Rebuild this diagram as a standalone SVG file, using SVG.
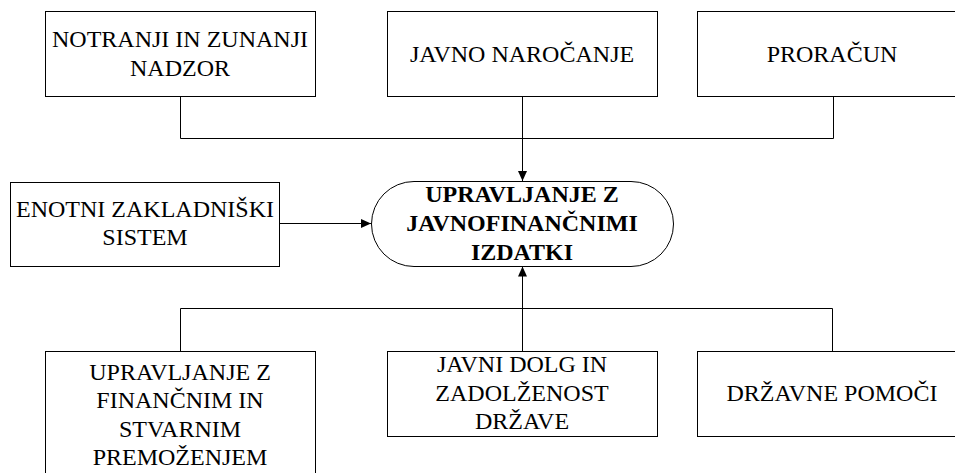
<svg xmlns="http://www.w3.org/2000/svg" width="955" height="473" viewBox="0 0 955 473">
  <style>
    .box { fill: #fff; stroke: #000; stroke-width: 1; }
    .wire { fill: none; stroke: #000; stroke-width: 1; }
  </style>
  <defs>
    <marker id="arrow" markerUnits="userSpaceOnUse" markerWidth="12" markerHeight="12" viewBox="0 0 12 12" refX="11" refY="6" orient="auto">
      <path d="M1,1.5 L11,6 L1,10.5 Z" fill="#000"/>
    </marker>
  </defs>
  <rect width="955" height="473" fill="#fff"/>

  <g id="connectors">
    <!-- upper bus: three sources joined, one arrow down to the centre -->
    <path class="wire" d="M180.5,96.5 V138.5 H833.5 V96.5"/>
    <path class="wire" d="M522.5,96.5 V181" marker-end="url(#arrow)"/>
    <!-- side input -->
    <path class="wire" d="M279.5,223.5 H371" marker-end="url(#arrow)"/>
    <!-- lower bus: three sources joined, one arrow up to the centre -->
    <path class="wire" d="M180.5,351.5 V308.5 H832.5 V351.5"/>
    <path class="wire" d="M522.5,351.5 V266.5" marker-end="url(#arrow)"/>
  </g>

  <g font-family="Liberation Serif, serif" font-size="24" fill="#000" text-anchor="middle">
    <g id="nadzor">
      <rect class="box" x="45.5" y="11.5" width="270" height="85"/>
      <text x="180" y="47">NOTRANJI IN ZUNANJI</text>
      <text x="180" y="76">NADZOR</text>
    </g>

    <g id="narocanje">
      <rect class="box" x="387.5" y="11.5" width="270" height="85"/>
      <text x="522" y="62">JAVNO NAROČANJE</text>
    </g>

    <g id="proracun">
      <rect class="box" x="697.5" y="11.5" width="270" height="85"/>
      <text x="832" y="62">PRORAČUN</text>
    </g>

    <g id="zakladniski">
      <rect class="box" x="10.5" y="182.5" width="269" height="84"/>
      <text x="145" y="217">ENOTNI ZAKLADNIŠKI</text>
      <text x="145" y="245">SISTEM</text>
    </g>

    <g id="izdatki" font-weight="bold">
      <rect class="box" x="371.5" y="181.5" width="302" height="85" rx="42.5" ry="42.5"/>
      <text x="522" y="202">UPRAVLJANJE Z</text>
      <text x="522" y="231">JAVNOFINANČNIMI</text>
      <text x="522" y="260">IZDATKI</text>
    </g>

    <g id="premozenje">
      <rect class="box" x="45.5" y="351.5" width="270" height="130"/>
      <text x="180" y="380">UPRAVLJANJE Z</text>
      <text x="180" y="408">FINANČNIM IN</text>
      <text x="180" y="437">STVARNIM</text>
      <text x="180" y="465">PREMOŽENJEM</text>
    </g>

    <g id="dolg">
      <rect class="box" x="387.5" y="351.5" width="270" height="85"/>
      <text x="522" y="372">JAVNI DOLG IN</text>
      <text x="522" y="401">ZADOLŽENOST</text>
      <text x="522" y="429">DRŽAVE</text>
    </g>

    <g id="pomoci">
      <rect class="box" x="697.5" y="351.5" width="270" height="85"/>
      <text x="832" y="401">DRŽAVNE POMOČI</text>
    </g>
  </g>
</svg>
